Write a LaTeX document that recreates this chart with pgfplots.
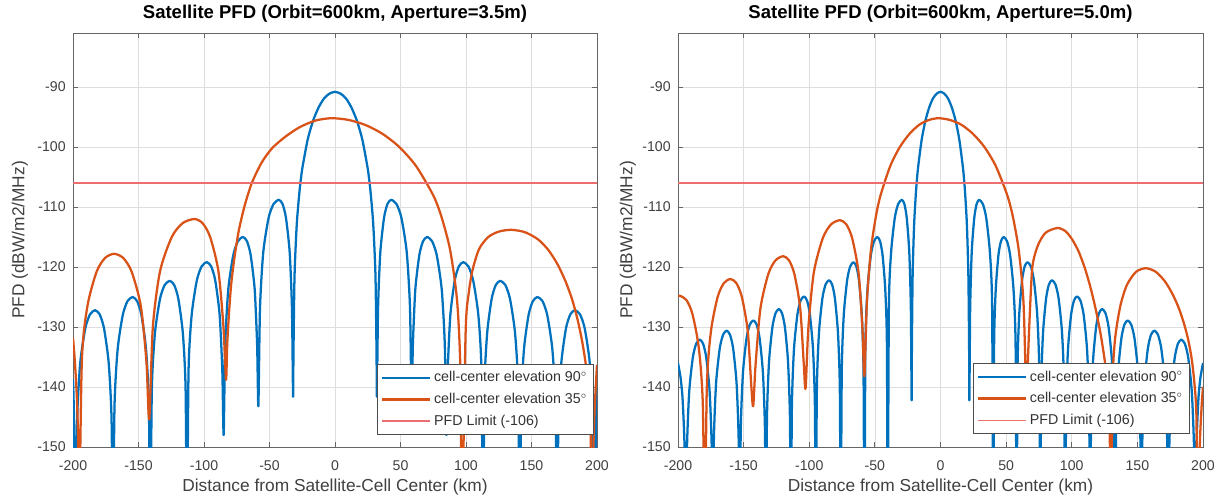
\documentclass[border=0pt]{standalone}
\usepackage{fontspec}
\setmainfont{Liberation Sans}
\usepackage{pgfplots}
\pgfplotsset{compat=1.18}

\definecolor{mblue}{RGB}{0,114,189}
\definecolor{morange}{RGB}{217,83,25}
\definecolor{mred}{RGB}{236,110,110}

\pgfplotsset{
  pfd/.style={
    scale only axis,
    height=310.5pt,
    xmin=-200, xmax=200, ymin=-150, ymax=-81,
    xtick={-200,-150,...,200},
    ytick={-150,-140,...,-90},
    grid=major,
    grid style={black!13, line width=0.5pt},
    axis line style={black!60, line width=0.6pt},
    tick align=inside,
    major tick length=4pt,
    tick style={black!60, line width=0.6pt},
    every tick label/.append style={font=\fontsize{10.6}{12}\selectfont, text=black!75},
    /pgf/number format/assume math mode=true,
    xticklabel style={anchor=base, yshift=-17.8pt},
    yticklabel style={xshift=-2pt},
    title style={at={(axis description cs:0.5,1.0165)}, anchor=base,
      font=\bfseries\fontsize{13.9}{16}\selectfont},
    xlabel style={at={(axis description cs:0.5,-0.107)}, anchor=base,
      font=\fontsize{13}{15}\selectfont, text=black!75},
    ylabel style={anchor=base, font=\fontsize{13}{15}\selectfont, text=black!75},
    xlabel={Distance from Satellite-Cell Center (km)},
    ylabel={PFD (dBW/m2/MHz)},
    legend style={anchor=south east, draw=black!70, fill=white, line width=0.6pt,
      font=\fontsize{10.7}{12}\selectfont, text=black!80,
      inner xsep=3pt, inner ysep=3.5pt, row sep=3pt,
      cells={anchor=west}},
    legend image code/.code={\draw[#1] (0pt,0pt) -- (36pt,0pt);},
  },
  blu/.style={mblue, line width=1.7pt, line join=round, smooth, tension=0.4},
  ora/.style={morange, line width=1.7pt, line join=round, smooth, tension=0.45},
  lim/.style={mred, line width=1.1pt},
}

\begin{document}
\begin{tikzpicture}
\path[use as bounding box] (0pt,0pt) rectangle (915.75pt,-372.75pt);

% ---------- aperture 3.5 m ----------
\begin{axis}[pfd,
  at={(54.75pt,-335.25pt)}, anchor=south west, width=393pt,
  title={Satellite PFD (Orbit=600km, Aperture=3.5m)},
  ylabel style={at={(axis description cs:-0.093,0.5)}},
  legend style={at={(axis description cs:0.9943,0.029)}},
]
\addplot[blu] coordinates {
(-200,-138.6) (-199.2,-145.5) (-198,-165)
(-196.81,-145.2) (-194.44,-135.9) (-190.59,-130.2) (-187.03,-127.9) (-183.18,-127.2) (-179.62,-127.9) (-176.34,-130.2) (-172.78,-135.9) (-170.59,-145.2) (-169.5,-165)
(-168.3,-143) (-165.91,-133.7) (-162.02,-128) (-158.43,-125.7) (-154.54,-125) (-151.02,-125.7) (-147.77,-128) (-144.25,-133.7) (-142.08,-143) (-141,-165)
(-139.81,-140.3) (-137.44,-131.0) (-133.58,-125.3) (-130.02,-123.0) (-126.16,-122.3) (-122.74,-123.0) (-119.58,-125.3) (-116.16,-131.0) (-114.05,-140.3) (-113,-165)
(-111.79,-137.2) (-109.37,-127.9) (-105.44,-122.2) (-101.81,-119.9) (-97.88,-119.2) (-94.53,-119.9) (-91.44,-122.2) (-88.09,-127.9) (-86.03,-137.2) (-85,-148)
(-83.82,-133.0) (-81.46,-123.7) (-77.64,-118.0) (-74.1,-115.7) (-70.27,-115.0) (-67.21,-115.7) (-64.38,-118.0) (-61.32,-123.7) (-59.44,-133.0) (-58.5,-143.2)
(-57.25,-126.8) (-54.75,-117.5) (-50.69,-111.8) (-46.93,-109.5) (-42.87,-108.8) (-40.04,-109.5) (-37.43,-111.8) (-34.61,-117.5) (-32.87,-126.8) (-32,-141.6)
(-31.7,-134.2) (-30.9,-121.5) (-29.2,-112.9) (-27.1,-107.4) (-25.05,-103.7) (-20.9,-98.8) (-16.7,-95.6) (-12.5,-93.4) (-8.35,-91.9) (-4.2,-91.1)
(0,-90.8)
(4.2,-91.1) (8.35,-91.9) (12.5,-93.4) (16.7,-95.6) (20.9,-98.8) (25.05,-103.7) (27.1,-107.4) (29.2,-112.9) (30.9,-121.5) (31.7,-134.2) (32,-141.6)
(32.87,-126.8) (34.61,-117.5) (37.43,-111.8) (40.04,-109.5) (42.87,-108.8) (46.93,-109.5) (50.69,-111.8) (54.75,-117.5) (57.25,-126.8) (58.5,-143.2)
(59.44,-133.0) (61.32,-123.7) (64.38,-118.0) (67.21,-115.7) (70.27,-115.0) (74.1,-115.7) (77.64,-118.0) (81.46,-123.7) (83.82,-133.0) (85,-148)
(86.03,-137.2) (88.09,-127.9) (91.44,-122.2) (94.53,-119.9) (97.88,-119.2) (101.81,-119.9) (105.44,-122.2) (109.37,-127.9) (111.79,-137.2) (113,-165)
(114.05,-140.3) (116.16,-131.0) (119.58,-125.3) (122.74,-123.0) (126.16,-122.3) (130.02,-123.0) (133.58,-125.3) (137.44,-131.0) (139.81,-140.3) (141,-165)
(142.08,-143) (144.25,-133.7) (147.77,-128) (151.02,-125.7) (154.54,-125) (158.43,-125.7) (162.02,-128) (165.91,-133.7) (168.3,-143) (169.5,-165)
(170.59,-145.2) (172.78,-135.9) (176.34,-130.2) (179.62,-127.9) (183.18,-127.2) (187.03,-127.9) (190.59,-130.2) (194.44,-135.9) (196.81,-145.2) (198,-165)
(199.2,-145.5) (200,-138.6)
};
\addlegendentry{cell-center elevation 90$^{\circ}$}
\addplot[ora] coordinates {
(-200,-131.8) (-198.5,-136) (-197,-142) (-196,-150) (-195.4,-165)
(-193.26,-135.8) (-188.97,-126.5) (-182,-120.8) (-175.57,-118.5) (-168.6,-117.8) (-161.63,-118.5) (-155.2,-120.8) (-148.23,-126.5) (-143.94,-135.8) (-141.8,-145.4)
(-139.05,-130) (-133.54,-120.7) (-124.6,-115) (-116.34,-112.7) (-107.4,-112) (-101.1,-112.7) (-95.3,-115) (-89,-120.7) (-85.14,-130) (-83.2,-138.8)
(-82.3,-133) (-81,-128) (-79.3,-123) (-76.8,-118.5) (-73.5,-114) (-69,-109.8) (-63.5,-106) (-56,-102.6) (-48,-100.2) (-38,-98.3) (-27,-96.7) (-15,-95.6) (-3,-95.2)
(10,-95.47) (23,-96.31) (36,-97.77) (49,-99.98) (62,-103.21) (75.1,-108.1) (81.5,-111.8) (88,-117.3) (93.3,-125.9) (95.9,-138.6) (96.7,-165)
(99.7,-131) (102,-124.5) (105,-120.5) (110,-117) (117,-115) (125,-114.1) (134.5,-113.8) (145,-114.2) (155,-115.4) (163,-117.2) (170,-119.6) (176,-122.4) (181,-125.4) (185,-128.6) (188.5,-132.2) (191.3,-136) (193.5,-140.5) (195,-145) (196,-165)
(197.5,-148) (198.8,-141) (200,-136.3)
};
\addlegendentry{cell-center elevation 35$^{\circ}$}
\addplot[lim] coordinates {(-200,-106) (200,-106)};
\addlegendentry{PFD Limit (-106)}
\end{axis}

% ---------- aperture 5.0 m ----------
\begin{axis}[pfd,
  at={(508.5pt,-335.25pt)}, anchor=south west, width=393.75pt,
  title={Satellite PFD (Orbit=600km, Aperture=5.0m)},
  ylabel style={at={(axis description cs:-0.087,0.5)}},
  legend style={at={(axis description cs:0.975,0.031)}},
]
\addplot[blu] coordinates {
(-200,-136) (-198,-138.5) (-196.5,-142) (-195,-150) (-194,-165)
(-193.16,-150.1) (-191.47,-140.8) (-188.72,-135.1) (-186.19,-132.8) (-183.44,-132.1) (-180.86,-132.8) (-178.47,-135.1) (-175.89,-140.8) (-174.3,-150.1) (-173.5,-165)
(-172.66,-148.6) (-170.97,-139.3) (-168.22,-133.6) (-165.69,-131.3) (-162.94,-130.6) (-160.36,-131.3) (-157.97,-133.6) (-155.39,-139.3) (-153.8,-148.6) (-153,-165)
(-152.17,-146.9) (-150.5,-137.6) (-147.8,-131.9) (-145.3,-129.6) (-142.6,-128.9) (-140.1,-129.6) (-137.8,-131.9) (-135.3,-137.6) (-133.77,-146.9) (-133,-165)
(-132.21,-145) (-130.63,-135.7) (-128.06,-130) (-125.69,-127.7) (-123.12,-127) (-120.75,-127.7) (-118.56,-130) (-116.19,-135.7) (-114.73,-145) (-114,-165)
(-113.2,-142.9) (-111.61,-133.6) (-109.02,-127.9) (-106.62,-125.6) (-104.03,-124.9) (-101.68,-125.6) (-99.52,-127.9) (-97.17,-133.6) (-95.72,-142.9) (-95,-165)
(-94.19,-140.2) (-92.58,-130.9) (-89.97,-125.2) (-87.55,-122.9) (-84.93,-122.2) (-82.61,-122.9) (-80.47,-125.2) (-78.14,-130.9) (-76.71,-140.2) (-76,-165)
(-75.22,-137.2) (-73.67,-127.9) (-71.14,-122.2) (-68.81,-119.9) (-66.28,-119.2) (-64.13,-119.9) (-62.14,-122.2) (-59.99,-127.9) (-58.66,-137.2) (-58,-165)
(-57.21,-133) (-55.62,-123.7) (-53.05,-118) (-50.67,-115.7) (-48.1,-115) (-46.05,-115.7) (-44.15,-118) (-42.1,-123.7) (-40.83,-133) (-40.2,-165)
(-39.34,-126.8) (-37.62,-117.5) (-34.83,-111.8) (-32.25,-109.5) (-29.46,-108.8) (-27.52,-109.5) (-25.73,-111.8) (-23.79,-117.5) (-22.6,-126.8) (-22,-142.2)
(-21.82,-134.2) (-21.24,-121.5) (-20.1,-112.9) (-18.66,-107.4) (-17.23,-103.7) (-14.36,-98.8) (-11.48,-95.6) (-8.61,-93.4) (-5.74,-91.9) (-2.87,-91.1)
(0,-90.8)
(2.87,-91.1) (5.74,-91.9) (8.61,-93.4) (11.48,-95.6) (14.36,-98.8) (17.23,-103.7) (18.66,-107.4) (20.1,-112.9) (21.24,-121.5) (21.82,-134.2) (22,-142.2)
(22.6,-126.8) (23.79,-117.5) (25.73,-111.8) (27.52,-109.5) (29.46,-108.8) (32.25,-109.5) (34.83,-111.8) (37.62,-117.5) (39.34,-126.8) (40.2,-165)
(40.83,-133) (42.1,-123.7) (44.15,-118) (46.05,-115.7) (48.1,-115) (50.67,-115.7) (53.05,-118) (55.62,-123.7) (57.21,-133) (58,-165)
(58.66,-137.2) (59.99,-127.9) (62.14,-122.2) (64.13,-119.9) (66.28,-119.2) (68.81,-119.9) (71.14,-122.2) (73.67,-127.9) (75.22,-137.2) (76,-165)
(76.71,-140.2) (78.14,-130.9) (80.47,-125.2) (82.61,-122.9) (84.93,-122.2) (87.55,-122.9) (89.97,-125.2) (92.58,-130.9) (94.19,-140.2) (95,-165)
(95.72,-142.9) (97.17,-133.6) (99.52,-127.9) (101.68,-125.6) (104.03,-124.9) (106.62,-125.6) (109.02,-127.9) (111.61,-133.6) (113.2,-142.9) (114,-165)
(114.73,-145) (116.19,-135.7) (118.56,-130) (120.75,-127.7) (123.12,-127) (125.69,-127.7) (128.06,-130) (130.63,-135.7) (132.21,-145) (133,-165)
(133.77,-146.9) (135.3,-137.6) (137.8,-131.9) (140.1,-129.6) (142.6,-128.9) (145.3,-129.6) (147.8,-131.9) (150.5,-137.6) (152.17,-146.9) (153,-165)
(153.8,-148.6) (155.39,-139.3) (157.97,-133.6) (160.36,-131.3) (162.94,-130.6) (165.69,-131.3) (168.22,-133.6) (170.97,-139.3) (172.66,-148.6) (173.5,-165)
(174.3,-150.1) (175.89,-140.8) (178.47,-135.1) (180.86,-132.8) (183.44,-132.1) (186.19,-132.8) (188.72,-135.1) (191.47,-140.8) (193.16,-150.1) (194,-165)
(195,-150) (196.5,-142) (198,-138.5) (200,-136)
};
\addlegendentry{cell-center elevation 90$^{\circ}$}
\addplot[ora] coordinates {
(-200,-124.9) (-198.5,-124.8) (-193.6,-125.5) (-189.05,-127.8) (-184.14,-133.5) (-181.1,-142.8) (-179.6,-165)
(-178.03,-140) (-174.9,-130.7) (-169.8,-125) (-165.1,-122.7) (-160,-122) (-155.5,-122.7) (-151.35,-125) (-146.85,-130.7) (-144.1,-140) (-142.7,-143.2)
(-140.87,-136.2) (-137.2,-126.9) (-131.25,-121.2) (-125.75,-118.9) (-119.8,-118.2) (-115.38,-118.9) (-111.3,-121.2) (-106.88,-126.9) (-104.16,-136.2) (-102.8,-140.2)
(-100.7,-130.2) (-96.51,-120.9) (-89.7,-115.2) (-83.41,-112.9) (-76.6,-112.2) (-71.76,-112.9) (-67.3,-115.2) (-62.46,-120.9) (-59.49,-130.2) (-58,-138.2)
(-56.08,-125.9) (-53.08,-117.3) (-49.41,-111.8) (-45.74,-108.1) (-38.34,-103.2) (-30.99,-100) (-23.59,-97.8) (-16.25,-96.3) (-8.87,-95.5) (-1.5,-95.2)
(7.24,-95.5) (15.99,-96.3) (24.7,-97.8) (33.47,-100) (42.18,-103.2) (50.96,-108.1) (55.32,-111.8) (59.67,-117.3) (63.22,-125.9) (65.5,-142)
(66.5,-136) (68,-128) (70,-120) (74,-116.5) (80,-114.3) (89,-113.5) (95,-114) (100,-115.3) (105,-117.3) (110,-120.2) (114.5,-123.6) (118.5,-127.3) (122,-131.2) (125,-135.4) (127.3,-140) (128.8,-145) (129.8,-165)
(131,-140) (133,-132) (137,-126.5) (142,-123) (149,-120.8) (156.5,-120.2) (164,-120.8) (171,-122.4) (177,-124.6) (182,-127.1) (186,-129.8) (189,-132.4) (191.5,-135.5) (193.5,-139.5) (195,-145) (196,-165)
(197.5,-150) (199,-143) (200,-140)
};
\addlegendentry{cell-center elevation 35$^{\circ}$}
\addplot[lim] coordinates {(-200,-106) (200,-106)};
\addlegendentry{PFD Limit (-106)}
\end{axis}
\end{tikzpicture}
\end{document}
